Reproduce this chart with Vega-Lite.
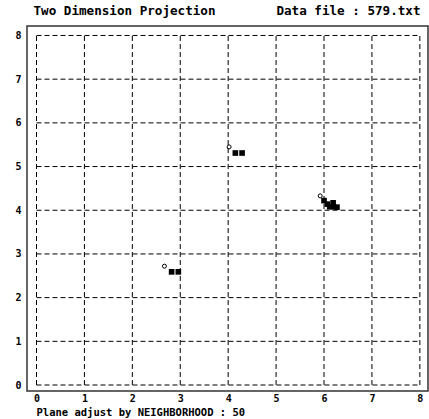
{
  "$schema": "https://vega.github.io/schema/vega-lite/v6.json",
  "autosize": {"type": "none"},
  "padding": {"left": 27, "top": 26, "right": 1, "bottom": 28},
  "width": 401,
  "height": 365,
  "background": "white",
  "config": {
    "view": {"stroke": "#333333", "strokeWidth": 1.5},
    "font": "DejaVu Sans Mono"
  },
  "datasets": {
    "vgrid": [
      {"x": 0}, {"x": 1}, {"x": 2}, {"x": 3}, {"x": 4}, {"x": 5}, {"x": 6}, {"x": 7}, {"x": 8}
    ],
    "hgrid": [
      {"y": 0}, {"y": 1}, {"y": 2}, {"y": 3}, {"y": 4}, {"y": 5}, {"y": 6}, {"y": 7}, {"y": 8}
    ],
    "squares": [
      {"x": 4.15, "y": 5.31}, {"x": 4.29, "y": 5.31},
      {"x": 2.82, "y": 2.59}, {"x": 2.96, "y": 2.59},
      {"x": 6.00, "y": 4.22}, {"x": 6.07, "y": 4.14}, {"x": 6.12, "y": 4.08},
      {"x": 6.19, "y": 4.17}, {"x": 6.2, "y": 4.08}, {"x": 6.27, "y": 4.07}
    ],
    "circles": [
      {"x": 4.02, "y": 5.45}, {"x": 2.67, "y": 2.72}, {"x": 5.92, "y": 4.33}
    ]
  },
  "resolve": {"axis": {"y": "independent"}},
  "layer": [
    {
      "data": {"name": "vgrid"},
      "mark": {"type": "rule", "color": "black", "strokeWidth": 1, "strokeDash": [5, 3]},
      "encoding": {
        "x": {"field": "x", "type": "quantitative",
          "scale": {"domain": [-0.198, 8.17], "nice": false, "zero": false},
          "axis": {
            "values": [0, 1, 2, 3, 4, 5, 6, 7, 8],
            "format": "d",
            "grid": false, "ticks": false, "domain": false,
            "labelFont": "DejaVu Sans Mono", "labelFontWeight": "bold", "labelFontSize": 10,
            "labelColor": "black", "labelPadding": 2,
            "title": "Plane adjust by NEIGHBORHOOD : 50",
            "titleFont": "DejaVu Sans Mono", "titleFontWeight": "bold", "titleFontSize": 10.5,
            "titleColor": "black", "titleAnchor": "start", "titleAlign": "left",
            "titleBaseline": "middle", "titleX": 9, "titleY": 21
          }
        },
        "y": {"datum": 0, "type": "quantitative", "axis": null},
        "y2": {"datum": 8}
      }
    },
    {
      "data": {"name": "hgrid"},
      "mark": {"type": "rule", "color": "black", "strokeWidth": 1, "strokeDash": [5, 3]},
      "encoding": {
        "y": {"field": "y", "type": "quantitative",
          "scale": {"domain": [-0.137, 8.217], "nice": false, "zero": false},
          "axis": {
            "values": [0, 1, 2, 3, 4, 5, 6, 7, 8],
            "format": "d",
            "grid": false, "ticks": false, "domain": false,
            "labelFont": "DejaVu Sans Mono", "labelFontWeight": "bold", "labelFontSize": 10,
            "labelColor": "black", "labelPadding": 6,
            "title": "Two Dimension Projection",
            "titleFont": "DejaVu Sans Mono", "titleFontWeight": "bold", "titleFontSize": 12.6,
            "titleColor": "black", "titleAngle": 0, "titleAlign": "left",
            "titleBaseline": "middle", "titleX": 6, "titleY": -16
          }
        },
        "x": {"datum": 0, "type": "quantitative"},
        "x2": {"datum": 8}
      }
    },
    {
      "data": {"name": "circles"},
      "mark": {"type": "point", "shape": "circle", "filled": false, "color": "black", "strokeWidth": 1, "size": 16, "opacity": 1},
      "encoding": {
        "x": {"field": "x", "type": "quantitative"},
        "y": {"field": "y", "type": "quantitative", "axis": null}
      }
    },
    {
      "data": {"name": "squares"},
      "mark": {"type": "point", "shape": "square", "filled": true, "color": "black", "size": 32, "opacity": 1},
      "encoding": {
        "x": {"field": "x", "type": "quantitative"},
        "y": {"field": "y", "type": "quantitative",
          "axis": {
            "orient": "right",
            "labels": false, "ticks": false, "domain": false, "grid": false,
            "title": "Data file : 579.txt",
            "titleFont": "DejaVu Sans Mono", "titleFontWeight": "bold", "titleFontSize": 12.6,
            "titleColor": "black", "titleAngle": 0, "titleAlign": "right",
            "titleBaseline": "middle", "titleX": -8, "titleY": -16
          }
        }
      }
    }
  ]
}
